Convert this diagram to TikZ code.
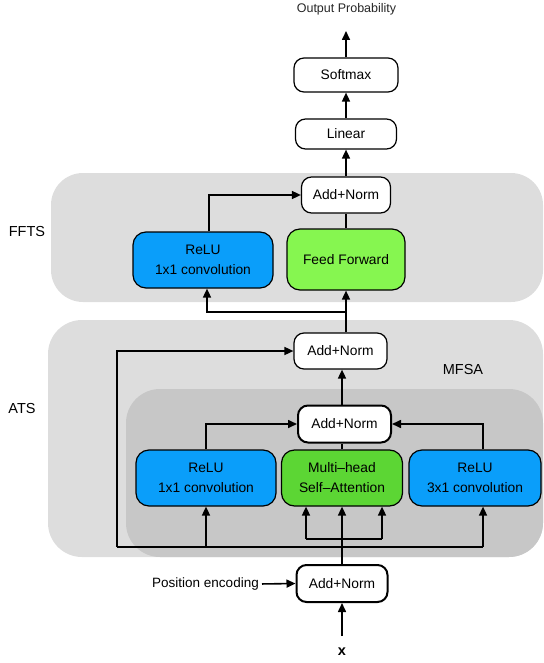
\documentclass[tikz,border=0pt]{standalone}
\usepackage{fontspec}
\setmainfont{Liberation Sans}
\usetikzlibrary{arrows.meta}
\definecolor{bgouter}{RGB}{221,221,221}
\definecolor{bginner}{RGB}{199,199,199}
\definecolor{relublue}{RGB}{10,158,250}
\definecolor{ffgreen}{RGB}{134,246,80}
\definecolor{mhgreen}{RGB}{92,214,52}
\begin{document}
\begin{tikzpicture}[x=1pt,y=-1pt,
  box/.style={draw=black, line width=1.2pt, rounded corners=10pt, fill=white, inner sep=0pt,
    font=\fontsize{13.8}{20}\selectfont, align=center},
  boldbox/.style={box, line width=2pt},
  colbox/.style={box, rounded corners=13pt},
  txt/.style={inner sep=0pt, font=\fontsize{13.5}{16}\selectfont},
  lbl/.style={inner sep=0pt, font=\fontsize{14.5}{16}\selectfont},
  conn/.style={line width=1.6pt, line join=miter},
  arr/.style={conn, -{Triangle[length=9pt,width=8pt]}}]
\useasboundingbox (0,0) rectangle (543,663);
% regions
\fill[bgouter, rounded corners=32pt] (51,173) rectangle (543,302);
\fill[bgouter, rounded corners=34pt] (48,320) rectangle (543,557);
\fill[bginner, rounded corners=34pt] (126,389) rectangle (543,557);
% labels
\node[lbl] (lffts) at (27,232) {FFTS};
\node[lbl] (lats) at (22,409) {ATS};
\node[lbl] (lmfsa) at (463,370) {MFSA};
% nodes
\node[txt, font=\fontsize{12.5}{14}\selectfont, text=black!85] (outp) at (346.5,9.5) {Output Probability};
\node[box, minimum width=104pt, minimum height=34pt] (soft) at (346,75) {Softmax};
\node[box, minimum width=101pt, minimum height=30pt] (lin) at (346,134) {Linear};
\node[box, minimum width=89pt, minimum height=36pt] (ffan) at (346,195) {Add+Norm};
\node[colbox, fill=relublue, minimum width=140pt, minimum height=56pt] (ffrelu) at (203,260) {ReLU\\1x1 convolution};
\node[colbox, fill=ffgreen, minimum width=118pt, minimum height=61pt] (ff) at (346,259.5) {Feed Forward};
\node[box, minimum width=93pt, minimum height=36pt] (atsan) at (340.5,351) {Add+Norm};
\node[boldbox, minimum width=93pt, minimum height=37pt] (mfan) at (344.5,424) {Add+Norm};
\node[colbox, fill=relublue, minimum width=140pt, minimum height=56pt] (relu1) at (206,478) {ReLU\\1x1 convolution};
\node[colbox, fill=mhgreen, minimum width=121pt, minimum height=56pt] (mh) at (342,478) {Multi–head\\Self–Attention};
\node[colbox, fill=relublue, minimum width=132pt, minimum height=56pt] (relu3) at (475,478) {ReLU\\3x1 convolution};
\node[boldbox, minimum width=91pt, minimum height=37pt] (inan) at (342,583.5) {Add+Norm};
\node[txt, anchor=east] (pos) at (259,584) {Position encoding};
\node[txt, font=\fontsize{14.5}{16}\selectfont\bfseries] (xin) at (342,652) {x};
% coordinates
\coordinate (outtip) at (346,31);
\coordinate (j1) at (346,312);
\coordinate (j2) at (207,312);
\coordinate (k1) at (209,194);
\coordinate (sp2) at (342,0);
\coordinate (bl) at (117,547);
\coordinate (br) at (483,547);
\coordinate (hl) at (306,539);
\coordinate (hr) at (382,539);
\coordinate (xtail) at (342,636);
% top connectors
\draw[arr] (soft.north) -- (outtip);
\draw[arr] (lin.north) -- (soft.south);
\draw[arr] (ffan.north) -- (lin.south);
\draw[conn] (ff.north) -- (ffan.south);
\draw[arr] (ffrelu.north -| k1) |- (ffan.west);
\draw[arr] (atsan.north -| j1) -- (ff.south);
\draw[arr] (j1) -- (j2) -- (ffrelu.south -| j2);
% ATS connectors
\draw[arr] (mfan.north -| sp2) -- (atsan.south -| sp2);
\draw[conn] (mh.north) -- (mfan.south -| sp2);
\draw[arr] (relu1.north) |- (mfan.west);
\draw[arr] (relu3.north -| br) |- (mfan.east);
\draw[arr] (bl) |- (atsan.west);
\draw[conn] (bl) -- (br);
\draw[arr] (br) -- (relu3.south -| br);
\draw[arr] (bl -| relu1.south) -- (relu1.south);
\draw[arr] (inan.north) -- (mh.south);
\draw[arr] (hl) -- (mh.south -| hl);
\draw[arr] (hr) -- (mh.south -| hr);
\draw[conn] (hl) -- (hr);
% input
\draw[arr, shorten <=3pt] (pos.east) -- (inan.west);
\draw[arr] (xtail) -- (inan.south);
\end{tikzpicture}
\end{document}
